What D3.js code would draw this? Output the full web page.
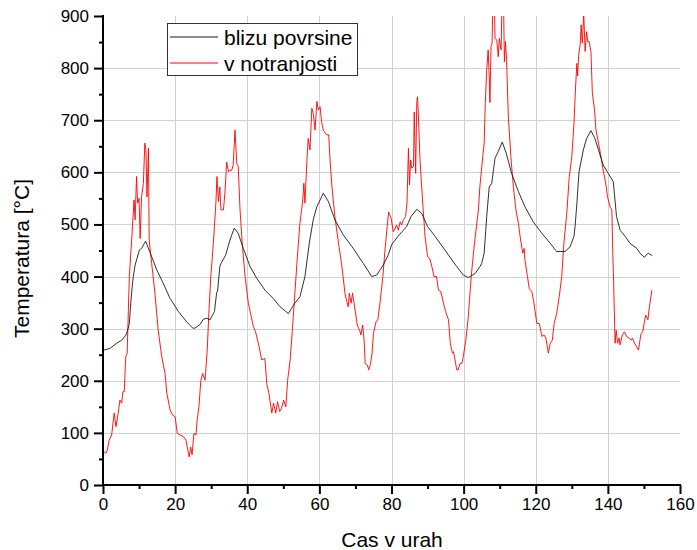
<!DOCTYPE html>
<html>
<head>
<meta charset="utf-8">
<script src="https://cdn.jsdelivr.net/npm/d3@7"></script>
<style>
  html, body { margin: 0; padding: 0; background: #fff; }
  svg { display: block; font-family: "Liberation Sans", Arial, sans-serif; }
</style>
</head>
<body>
<svg id="chart" width="697" height="550"></svg>
<script>
// ---- data ----
const xTicks = [0, 20, 40, 60, 80, 100, 120, 140, 160];
const yTicks = [0, 100, 200, 300, 400, 500, 600, 700, 800, 900];
const xLabel = "Cas v urah";
const yLabel = "Temperatura [°C]";
const seriesNames = ["blizu povrsine", "v notranjosti"];

const blackHours = [0.3,1.9,3.8,5.2,6.4,7.0,7.3,7.7,8.0,8.4,8.9,10.1,10.7,11.8,13.0,14.9,16.7,18.6,20.9,23.2,24.9,25.5,26.9,27.8,28.8,29.7,30.9,31.5,31.8,32.4,32.7,34.0,35.2,36.4,37.5,38.9,40.8,42.6,44.9,47.2,49.1,51.4,52.3,53.2,54.6,56.0,57.2,58.3,59.3,61.1,62.5,64.3,66.6,69.4,72.2,74.5,75.9,77.7,79.0,80.1,81.9,84.2,85.4,87.0,88.4,90.0,92.1,94.8,98.1,99.9,101.3,103.2,104.5,105.0,105.7,106.4,107.1,107.8,108.7,109.6,110.7,111.8,113.3,115.2,117.0,119.3,121.7,124.0,125.8,128.1,129.5,130.6,130.9,131.4,132.0,133.2,134.1,135.3,136.4,137.4,138.7,140.1,141.5,142.4,143.4,144.8,146.1,148.0,148.9,150.1,151.2,152.3];
const blackTemps = [259,262,272,278,288,301,310,349,374,400,422,451,454,468,447,413,387,358,333,313,301,301,308,318,320,317,333,368,374,419,425,441,470,493,483,454,419,397,374,358,342,329,339,349,361,400,464,509,534,560,544,509,480,454,425,400,403,422,440,462,478,496,515,529,521,496,477,451,419,403,398,406,419,425,445,515,572,579,627,640,658,637,598,563,534,505,483,464,448,448,457,477,496,540,601,643,665,680,665,643,614,598,582,515,489,477,464,454,445,437,445,440];

const redHours = [0.3,0.8,1.2,1.7,2.4,3.1,3.6,4.2,4.7,5.2,5.5,5.9,6.3,6.7,7.3,8.0,8.6,8.9,9.3,9.6,10.0,10.3,10.7,11.2,11.6,11.9,12.2,12.6,12.8,13.5,14.4,15.3,16.3,17.2,17.7,18.6,19.3,20.0,20.6,21.4,22.3,23.0,23.7,23.9,24.3,24.7,25.2,25.8,26.1,26.6,27.1,27.6,28.3,28.9,29.4,29.9,30.6,31.3,31.6,32.0,32.4,32.7,33.4,33.8,34.3,34.8,35.2,35.7,36.1,36.6,37.1,37.5,38.0,38.6,39.4,40.3,41.7,42.3,43.3,44.0,44.9,45.4,46.0,46.8,47.3,47.9,48.4,49.0,49.5,50.1,50.7,51.2,51.9,52.5,53.2,53.9,54.6,55.4,55.7,56.0,56.5,56.9,57.4,57.9,58.3,58.8,59.3,59.7,60.2,60.6,61.1,62.0,62.6,62.9,63.4,64.3,65.3,66.2,67.1,67.6,68.0,68.3,68.8,69.2,69.9,70.5,71.3,71.5,72.0,72.4,72.7,73.3,73.7,74.2,74.6,75.0,75.7,76.2,76.8,77.6,78.2,78.8,79.2,79.9,80.5,81.0,81.4,81.9,82.4,82.8,83.3,83.9,84.3,84.7,85.0,85.3,85.6,86.1,86.3,86.7,87.0,87.2,87.4,87.9,88.6,89.3,90.0,90.6,91.1,91.8,92.5,93.0,93.7,94.4,95.0,95.8,96.3,96.9,97.2,97.6,98.1,98.5,99.0,99.5,99.9,100.6,101.3,102.1,103.0,104.1,104.5,105.3,105.7,106.0,106.4,106.8,107.1,107.3,107.6,107.9,108.2,108.5,108.7,109.2,109.6,109.9,110.4,110.7,111.0,111.3,111.6,111.9,112.4,113.1,113.8,114.5,115.2,115.8,116.4,116.8,117.0,117.7,118.2,118.9,119.5,120.3,121.0,121.7,122.3,122.8,123.5,124.0,124.6,125.1,125.8,126.5,127.2,127.8,128.6,129.3,130.0,130.6,131.0,131.4,131.6,131.9,132.3,132.6,132.9,133.3,133.7,134.1,134.4,134.8,135.3,135.7,136.3,136.7,137.4,138.1,138.7,139.4,139.9,140.6,141.1,141.3,141.6,142.0,142.3,142.7,143.1,143.4,144.0,144.6,145.2,145.9,146.4,146.8,147.4,148.0,148.5,148.9,149.2,149.7,150.1,150.5,151.1,151.4,152.2];
const redTemps = [64,61,67,86,96,138,112,138,163,157,179,179,246,253,400,476,547,509,592,541,550,473,553,579,656,643,553,646,470,425,368,297,246,214,176,144,134,131,99,96,93,86,61,54,73,58,99,96,125,150,198,214,201,259,336,400,464,541,592,544,572,528,528,560,620,601,604,604,614,681,617,611,528,464,400,349,304,294,265,240,243,195,176,138,157,138,160,141,147,163,150,201,240,297,368,438,502,547,579,541,617,665,643,723,713,681,736,720,726,697,681,672,672,630,579,515,464,422,368,352,342,368,349,368,336,307,294,288,307,278,233,230,221,233,253,291,313,317,349,400,451,496,524,512,486,492,499,489,505,499,509,515,541,646,576,624,608,611,716,598,732,745,720,624,547,477,438,435,422,400,400,374,371,349,333,317,272,253,256,240,221,221,233,233,246,278,323,400,464,528,572,630,656,732,796,835,784,734,841,848,960,960,857,854,822,857,835,960,960,812,851,816,707,630,572,528,502,470,445,454,432,400,377,371,349,310,310,285,288,282,253,272,278,310,329,361,400,464,521,592,630,694,758,809,785,825,844,883,848,905,832,870,851,851,832,752,720,681,656,630,604,579,553,534,528,464,387,272,297,272,282,269,288,294,285,282,278,282,272,265,259,278,291,294,313,326,317,336,374];

// ---- layout ----
const svg = d3.select("#chart");
const pL = 103, pR = 680, pT = 16, pB = 485;

const x = d3.scaleLinear().domain([0, 160]).range([pL, pR]);
const y = d3.scaleLinear().domain([0, 900]).range([pB, pT]);

// grid
const grid = svg.append("g").attr("stroke", "#d2d2d2").attr("stroke-width", 1);
grid.selectAll("line.v").data(xTicks.filter(d => d > 0 && d < 160)).enter()
  .append("line").attr("x1", d => Math.round(x(d)) + 0.5).attr("x2", d => Math.round(x(d)) + 0.5)
  .attr("y1", pT).attr("y2", pB);
grid.selectAll("line.h").data(yTicks.filter(d => d > 0 && d < 900)).enter()
  .append("line").attr("y1", d => Math.round(y(d)) + 0.5).attr("y2", d => Math.round(y(d)) + 0.5)
  .attr("x1", pL).attr("x2", pR);

// clip
svg.append("clipPath").attr("id", "plotclip").append("rect")
  .attr("x", pL).attr("y", pT).attr("width", pR - pL).attr("height", pB - pT);

const line = d3.line().x(d => x(d[0])).y(d => y(d[1]));
const pairs = (a, b) => d3.range(Math.min(a.length, b.length)).map(i => [a[i], b[i]]);

svg.append("path")
  .datum(pairs(redHours, redTemps))
  .attr("clip-path", "url(#plotclip)")
  .attr("fill", "none").attr("stroke", "#ff0000").attr("stroke-width", 0.9)
  .attr("stroke-linejoin", "round")
  .attr("d", line);

svg.append("path")
  .datum(pairs(blackHours, blackTemps))
  .attr("clip-path", "url(#plotclip)")
  .attr("fill", "none").attr("stroke", "#1a1a1a").attr("stroke-width", 0.9)
  .attr("stroke-linejoin", "round")
  .attr("d", line);

// axes
const xAxis = d3.axisBottom(x).tickValues(xTicks).tickSize(9).tickPadding(4).tickFormat(d3.format("d"));
const yAxis = d3.axisLeft(y).tickValues(yTicks).tickSize(9).tickPadding(5).tickFormat(d3.format("d"));
const xMinor = d3.axisBottom(x).tickValues(d3.range(10, 160, 20)).tickSize(4).tickFormat("");
const yMinor = d3.axisLeft(y).tickValues(d3.range(50, 900, 100)).tickSize(4).tickFormat("");

function styleAxis(g) {
  g.select(".domain").remove();
  g.selectAll(".tick line").attr("stroke", "#000").attr("stroke-width", 2);
  g.selectAll(".tick text").attr("fill", "#000").attr("font-size", 17)
    .attr("font-family", "'Liberation Sans', Arial, sans-serif");
}

svg.append("g").attr("transform", `translate(0,${pB})`).call(xAxis).call(styleAxis);
svg.append("g").attr("transform", `translate(${pL},0)`).call(yAxis).call(styleAxis);
svg.append("g").attr("transform", `translate(0,${pB})`).call(xMinor).call(styleAxis);
svg.append("g").attr("transform", `translate(${pL},0)`).call(yMinor).call(styleAxis);

// axis lines
svg.append("line").attr("x1", pL).attr("x2", pL).attr("y1", pT - 1).attr("y2", pB + 1)
  .attr("stroke", "#000").attr("stroke-width", 2);
svg.append("line").attr("x1", pL - 1).attr("x2", pR + 1).attr("y1", pB).attr("y2", pB)
  .attr("stroke", "#000").attr("stroke-width", 2);

// axis titles
svg.append("text").attr("x", 392).attr("y", 547)
  .attr("text-anchor", "middle").attr("font-size", 21).attr("fill", "#000").text(xLabel);
svg.append("text").attr("transform", `translate(29,${(pT + pB) / 2 + 8}) rotate(-90)`)
  .attr("text-anchor", "middle").attr("font-size", 21).attr("fill", "#000").text(yLabel);

// legend
const lg = svg.append("g");
lg.append("rect").attr("x", 167.5).attr("y", 23.5).attr("width", 190).attr("height", 52)
  .attr("fill", "#fff").attr("stroke", "#333").attr("stroke-width", 1);
const colors = ["#1a1a1a", "#ff0000"];
seriesNames.forEach((name, i) => {
  const cy = 37 + i * 26;
  lg.append("line").attr("x1", 170).attr("x2", 218).attr("y1", cy).attr("y2", cy)
    .attr("stroke", colors[i]).attr("stroke-width", 1);
  lg.append("text").attr("x", 224).attr("y", cy + 7.5).attr("font-size", 21).attr("fill", "#000").text(name);
});
</script>
</body>
</html>
